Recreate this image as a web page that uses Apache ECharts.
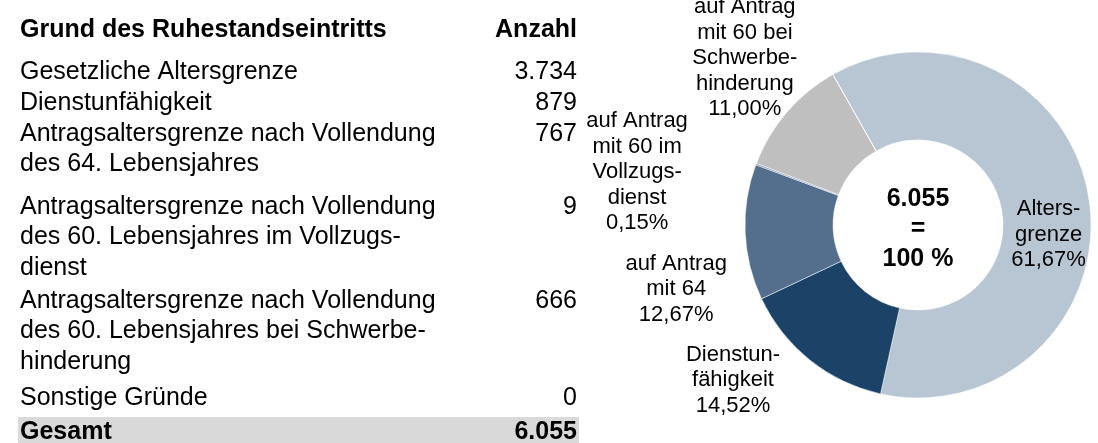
<!DOCTYPE html>
<html>
<head>
<meta charset="utf-8">
<script src="https://cdn.jsdelivr.net/npm/echarts@6/dist/echarts.min.js"></script>
<style>
  html, body { margin: 0; padding: 0; background: #fff; }
  #chart { width: 1098px; height: 443px; }
</style>
</head>
<body>
<div id="chart"></div>
<script>
const reasons = [
  "Gesetzliche Altersgrenze",
  "Dienstunfähigkeit",
  "Antragsaltersgrenze nach Vollendung\ndes 64. Lebensjahres",
  "Antragsaltersgrenze nach Vollendung\ndes 60. Lebensjahres im Vollzugs-\ndienst",
  "Antragsaltersgrenze nach Vollendung\ndes 60. Lebensjahres bei Schwerbe-\nhinderung",
  "Sonstige Gründe",
];
const counts = [3734, 879, 767, 9, 666, 0];
const sliceNames = [
  "Alters-\ngrenze",
  "Dienstun-\nfähigkeit",
  "auf Antrag\nmit 64",
  "auf Antrag\nmit 60 im\nVollzugs-\ndienst",
  "auf Antrag\nmit 60 bei\nSchwerbe-\nhinderung",
  "Sonstige",
];
const sliceColors = ["#b8c6d4", "#1b4267", "#536f8d", "#7f97b1", "#bfbfbf", "#dddddd"];

const FONT = "'Liberation Sans', Arial, sans-serif";
// first-line y of each table row (layout only)
const rowY = [72, 103, 134, 207, 301, 398];
const LINE_H = 30.5;
const VALUE_X = 577;

// label nudges relative to ECharts' default spot [dx, dy]
const labelShift = [
  [0, 29],
  [-77, 20],
  [-69, 57],
  [-119, 8],
  [-42, -54],
  [0, 0],
];

function fmtInt(v) {
  return String(v).replace(/\B(?=(\d{3})+(?!\d))/g, ".");
}

const total = counts.reduce((a, b) => a + b, 0);

function render() {
  const chart = echarts.init(document.getElementById("chart"));

  const graphics = [];
  graphics.push({
    type: "rect",
    shape: { x: 18, y: 417, width: 561, height: 30 },
    style: { fill: "#d9d9d9" },
    z: 0,
  });
  graphics.push({
    type: "text",
    x: 20,
    y: 30,
    style: { text: "Grund des Ruhestandseintritts", font: "bold 25px " + FONT, fill: "#000", verticalAlign: "middle" },
  });
  graphics.push({
    type: "text",
    x: VALUE_X,
    y: 30,
    style: { text: "Anzahl", font: "bold 25px " + FONT, fill: "#000", align: "right", verticalAlign: "middle" },
  });
  for (let i = 0; i < reasons.length; i++) {
    graphics.push({
      type: "text",
      x: 20,
      y: rowY[i] - LINE_H / 2,
      style: { text: reasons[i], font: "25px " + FONT, lineHeight: LINE_H, fill: "#000", verticalAlign: "top" },
    });
    graphics.push({
      type: "text",
      x: VALUE_X,
      y: rowY[i] - LINE_H / 2,
      style: { text: fmtInt(counts[i]), font: "25px " + FONT, lineHeight: LINE_H, fill: "#000", align: "right", verticalAlign: "top" },
    });
  }
  graphics.push({
    type: "text",
    x: 20,
    y: 432,
    style: { text: "Gesamt", font: "bold 25px " + FONT, fill: "#000", verticalAlign: "middle" },
    z: 2,
  });
  graphics.push({
    type: "text",
    x: VALUE_X,
    y: 432,
    style: { text: fmtInt(total), font: "bold 25px " + FONT, fill: "#000", align: "right", verticalAlign: "middle" },
    z: 2,
  });
  graphics.push({
    type: "text",
    x: 918,
    y: 229,
    style: {
      text: fmtInt(total) + "\n=\n100 %",
      font: "bold 25px " + FONT,
      lineHeight: 30,
      fill: "#000",
      align: "center",
      verticalAlign: "middle",
    },
  });

  const pieData = counts.map((v, i) => ({
    name: sliceNames[i],
    value: v,
    itemStyle: { color: sliceColors[i] },
    label: {
      show: v > 0,
      position: i === 0 ? "inside" : "outside",
    },
  }));

  const option = {
    animation: false,
    graphic: graphics,
    series: [
      {
        type: "pie",
        center: [918, 225],
        radius: [85, 173],
        startAngle: 119.5,
        clockwise: true,
        avoidLabelOverlap: false,
        itemStyle: { borderColor: "#ffffff", borderWidth: 0.5 },
        label: {
          color: "#000",
          fontFamily: FONT,
          fontSize: 22,
          lineHeight: 25.5,
          distanceToLabelLine: 0,
          formatter: (p) =>
            p.name + "\n" + (p.value / total * 100).toFixed(2).replace(".", ",") + "%",
        },
        labelLine: { show: false, length: 0, length2: 0 },
        labelLayout: (params) => ({
          align: "center",
          verticalAlign: "middle",
          dx: labelShift[params.dataIndex][0],
          dy: labelShift[params.dataIndex][1],
        }),
        emphasis: { disabled: true },
        data: pieData,
      },
    ],
  };

  chart.setOption(option);
}

render();
</script>
</body>
</html>
